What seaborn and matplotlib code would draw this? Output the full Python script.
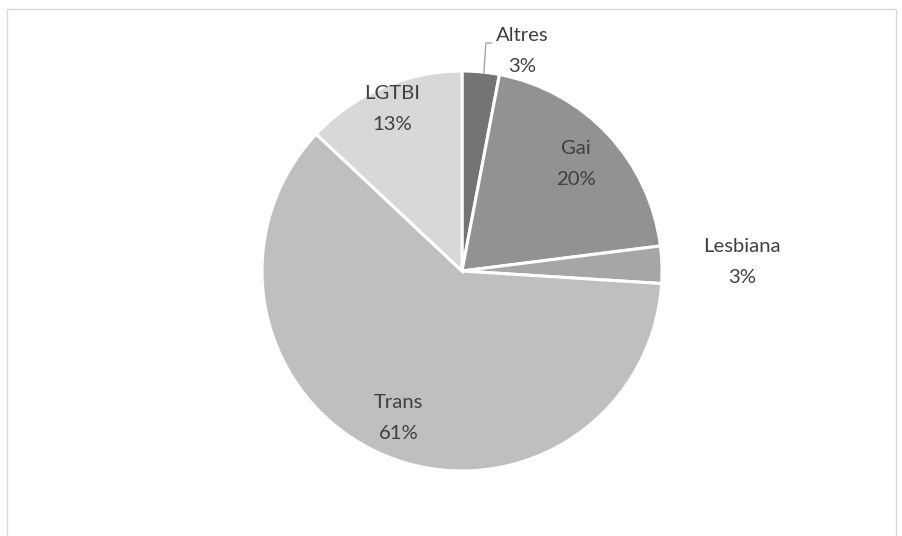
import numpy as np
import matplotlib
matplotlib.use("Agg")
import matplotlib.pyplot as plt
import seaborn as sns
from matplotlib.patches import Rectangle

# ── Data ─────────────────────────────────────────────────────────────────────
categories = ["Altres", "Gai", "Lesbiana", "Trans", "LGTBI"]
shares = [3, 20, 3, 61, 13]
colors = ["#747474", "#929292", "#a6a6a6", "#bfbfbf", "#d8d8d8"]
# how far from the centre each label sits (fraction of radius)
label_dist = [1.16, 0.78, 1.40, 0.80, 0.88]

sns.set_theme(style="white")
plt.rcParams["font.family"] = ["Lato", "DejaVu Sans"]

W, H = 903, 536
fig = plt.figure(figsize=(W / 100, H / 100), dpi=100)
cx, cy, r = 462, H - 271, 200
ax = fig.add_axes([(cx - r) / W, (cy - r) / H, 2 * r / W, 2 * r / H])

wedges, _ = ax.pie(shares, colors=colors, startangle=90, counterclock=False,
                   radius=1, wedgeprops=dict(edgecolor="white", linewidth=2.2))
ax.set_xlim(-1, 1)
ax.set_ylim(-1, 1)
ax.set_aspect("equal")
ax.axis("off")

for w, cat, val, d in zip(wedges, categories, shares, label_dist):
    mid = np.deg2rad((w.theta1 + w.theta2) / 2)
    x, y = d * np.cos(mid), d * np.sin(mid)
    if cat == "Altres":
        # leader line for the thin top slice
        sx, sy = 0.996 * np.cos(np.deg2rad(83.7)), 0.996 * np.sin(np.deg2rad(83.7))
        ax.plot([sx, sx + 0.01, sx + 0.04], [sy, 1.14, 1.14], color="#a6a6a6",
                lw=1, clip_on=False)
        x, y = 0.30, 1.10
    ax.text(x, y, f"{cat}\n{val}%", ha="center", va="center", fontsize=14.6,
            color="#404040", linespacing=2.0, clip_on=False)

fig.patches.append(Rectangle((7 / W, -0.05), 889 / W, (H - 9) / H + 0.05,
                             transform=fig.transFigure, fill=False,
                             edgecolor="#d9d9d9", linewidth=1))

fig.savefig("out.png", dpi=100)
